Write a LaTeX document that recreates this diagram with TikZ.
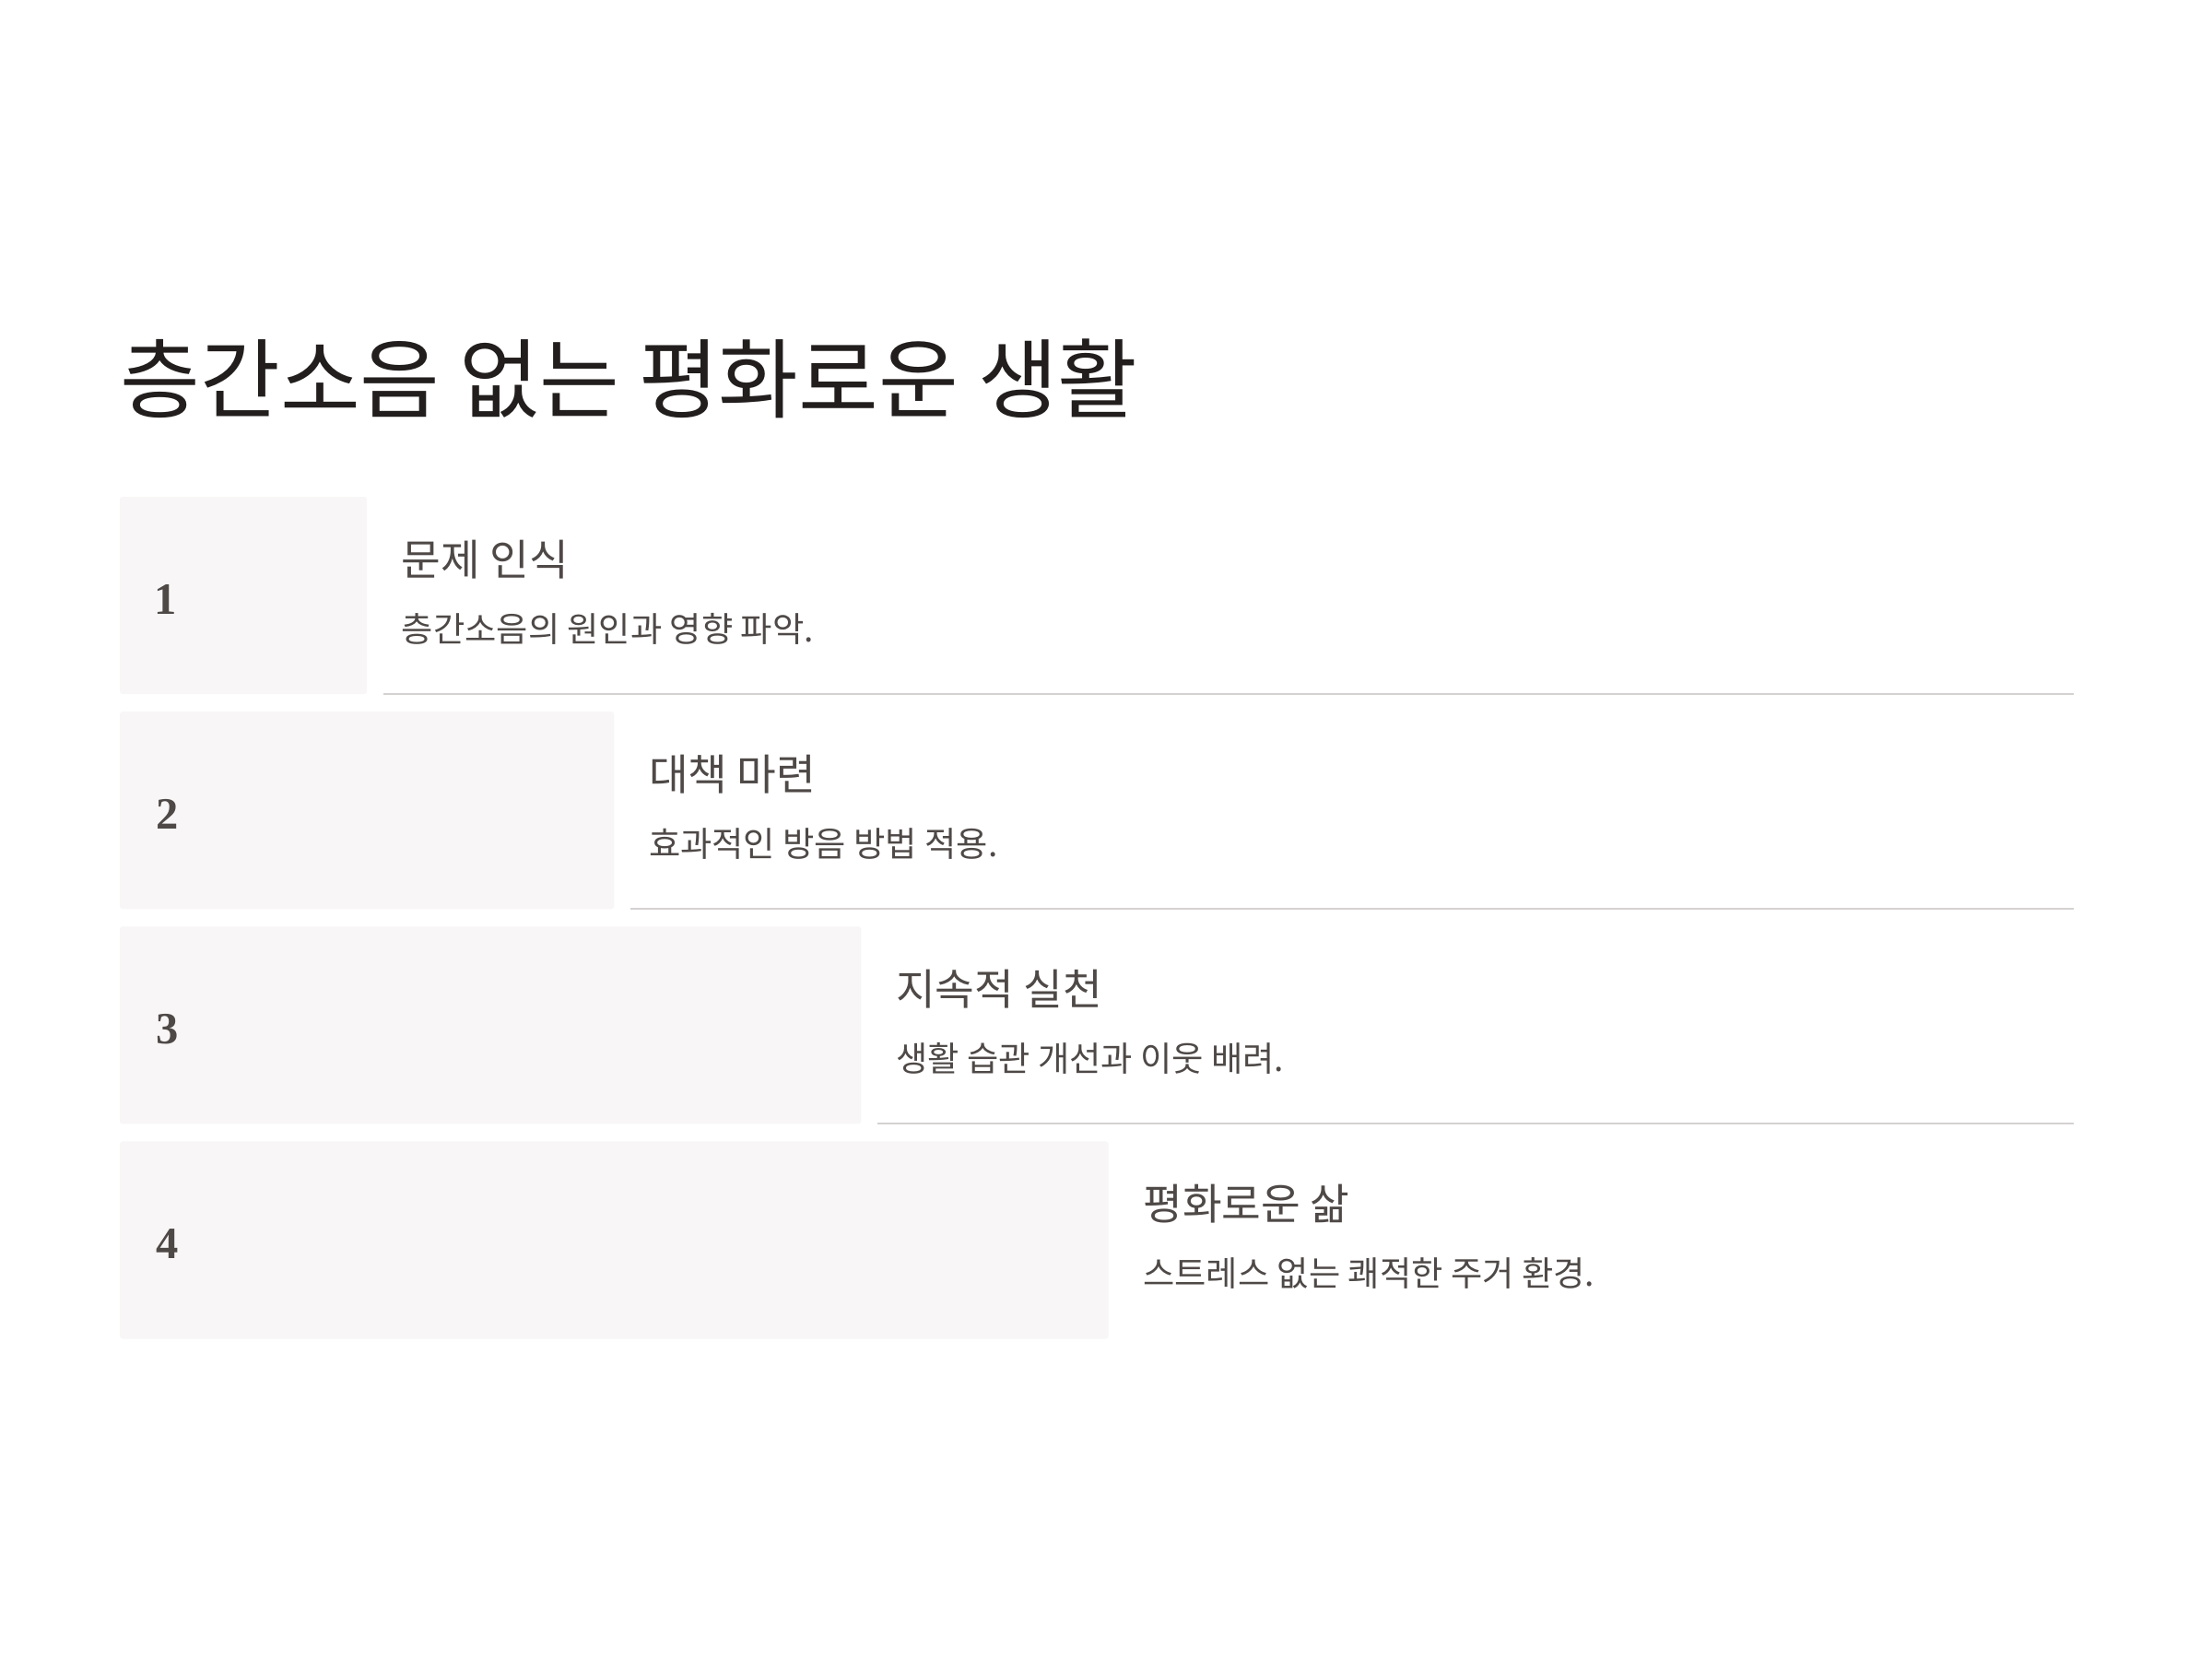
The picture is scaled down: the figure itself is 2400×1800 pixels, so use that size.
\documentclass[tikz,border=0pt]{standalone}
\usepackage{fontspec}
\setmainfont{Noto Sans CJK KR}
\newfontfamily\numfont{Liberation Serif}
\usepackage{tikz}
\usetikzlibrary{positioning, calc}
\definecolor{boxgray}{HTML}{F8F6F6}
\definecolor{inkdark}{HTML}{221E1D}
\definecolor{inkgray}{HTML}{4E4947}
\definecolor{rulegray}{HTML}{D5D1D1}
\tikzstyle{title} = [font=\fontsize{26.8}{32}\selectfont, text=inkdark,
    inner sep=0pt, anchor=west]
\tikzstyle{stage} = [rectangle, fill=boxgray, rounded corners=0.03cm,
    minimum height=2.14cm, inner sep=0pt, outer sep=0pt]
\tikzstyle{num} = [font=\numfont\bfseries\fontsize{13.8}{16}\selectfont, text=inkgray,
    inner sep=0pt, yshift=-0.04cm]
\tikzstyle{head} = [font=\fontsize{13.2}{15}\selectfont, text=inkgray, inner sep=0pt]
\tikzstyle{desc} = [font=\fontsize{10.6}{13}\selectfont, text=inkgray, inner sep=0pt]
\tikzstyle{rule} = [draw=rulegray, line width=0.02cm]

\begin{document}
\begin{tikzpicture}[x=0.01cm, y=-0.01cm]
    \useasboundingbox (0,0) rectangle (2400,1800);
    % Title
    \node [title] (title) at (130,411) {층간소음 없는 평화로운 생활};

    % Stages
    \node [stage, minimum width=2.68cm, anchor=north west] (box1) at (130,539) {};
    \node [stage, minimum width=5.36cm, below=0.19cm of box1.south west, anchor=north west] (box2) {};
    \node [stage, minimum width=8.04cm, below=0.19cm of box2.south west, anchor=north west] (box3) {};
    \node [stage, minimum width=10.72cm, below=0.19cm of box3.south west, anchor=north west] (box4) {};

    % Numbers
    \node [num, right=0.37cm of box1.west] (num1) {1};
    \node [num, right=0.39cm of box2.west] (num2) {2};
    \node [num, right=0.39cm of box3.west] (num3) {3};
    \node [num, right=0.39cm of box4.west] (num4) {4};

    % Texts
    \node [head, right=0.37cm of box1.east, yshift=0.39cm] (head1) {문제 인식};
    \node [desc, right=0.37cm of box1.east, yshift=-0.36cm] (desc1) {층간소음의 원인과 영향 파악.};
    \node [head, right=0.37cm of box2.east, yshift=0.39cm] (head2) {대책 마련};
    \node [desc, right=0.37cm of box2.east, yshift=-0.36cm] (desc2) {효과적인 방음 방법 적용.};
    \node [head, right=0.37cm of box3.east, yshift=0.39cm] (head3) {지속적 실천};
    \node [desc, right=0.37cm of box3.east, yshift=-0.36cm] (desc3) {생활 습관 개선과 이웃 배려.};
    \node [head, right=0.37cm of box4.east, yshift=0.39cm] (head4) {평화로운 삶};
    \node [desc, right=0.37cm of box4.east, yshift=-0.36cm] (desc4) {스트레스 없는 쾌적한 주거 환경.};

    % Rules
    \coordinate (edge) at (2250,0);
    \draw [rule] ([xshift=0.18cm]box1.south east) -- (box1.south east -| edge);
    \draw [rule] ([xshift=0.18cm]box2.south east) -- (box2.south east -| edge);
    \draw [rule] ([xshift=0.18cm]box3.south east) -- (box3.south east -| edge);
\end{tikzpicture}
\end{document}
